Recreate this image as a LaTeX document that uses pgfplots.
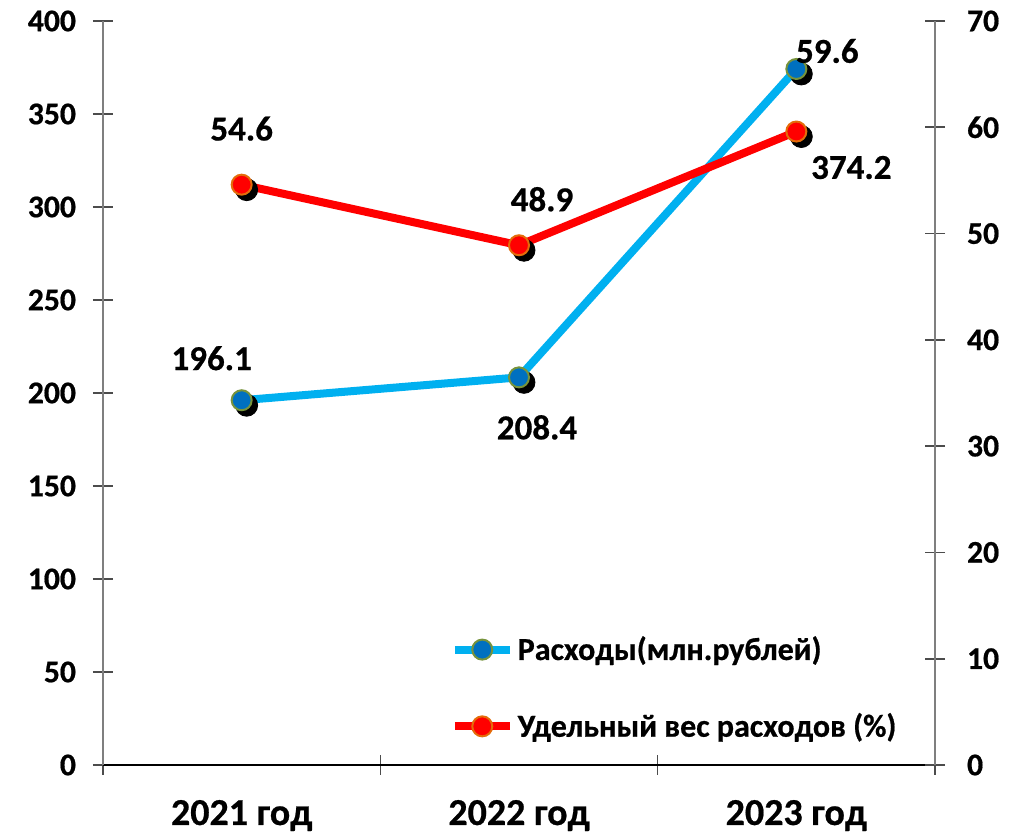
\documentclass[border=0pt]{standalone}
\usepackage{fontspec}
\setmainfont{Carlito}[BoldFeatures={FakeBold=0.6}]
\usepackage{pgfplots}
\usepackage{pgfplotstable}
\pgfplotsset{compat=1.18}
\definecolor{blueline}{HTML}{00B0F0}
\definecolor{bluemark}{HTML}{0070C0}
\definecolor{blueedge}{HTML}{77933C}
\definecolor{redline}{HTML}{FF0000}
\definecolor{rededge}{HTML}{E46C0A}
\definecolor{axgray}{HTML}{7F7F7F}
\pgfplotstableread{
x y dx dy lab
0 196.1 -15 21 196.1
1 208.4 9 -25 208.4
2 374.2 15.5 9 59.6
}\bluedata
\pgfplotstableread{
x y dx dy lab
0 54.6 0 28 54.6
1 48.9 11.5 23 48.9
2 59.6 27.5 -18 374.2
}\reddata
\pgfplotsset{
  base/.style={
    width=416pt, height=372pt, scale only axis,
    at={(0,0)}, anchor=south west,
    xmin=-0.5, xmax=2.5, clip=false,
    tick align=center, major tick length=10pt,
    tick style={draw=axgray!60!black, line width=0.8pt},
    ticklabel style={font=\fontsize{15.8}{18}\selectfont\bfseries},
    /pgf/number format/assume math mode=true,
    legend image code/.code={\draw[mark repeat=2,mark phase=2] plot coordinates {(0pt,0pt) (13.75pt,0pt) (27.5pt,0pt)};},
  },
  lab/.style={nodes near coords, point meta=explicit symbolic,
    visualization depends on={\thisrow{dx}\as\mydx},
    visualization depends on={\thisrow{dy}\as\mydy},
    every node near coord/.append style={anchor=center, xshift=\mydx pt, yshift=\mydy pt,
      font=\fontsize{17.5}{20}\selectfont\bfseries, text=black}},
  blueS/.style={blueline, line width=4pt, mark=*, mark size=5pt,
    mark options={solid, draw=blueedge, fill=bluemark, line width=1pt}},
  redS/.style={redline, line width=4pt, mark=*, mark size=5pt,
    mark options={solid, draw=rededge, fill=redline, line width=1pt}},
  shadow/.style={only marks, mark=*, mark size=5.5pt, black, forget plot,
    mark options={xshift=2.5pt, yshift=-2.5pt}},
}
\begin{document}
\begin{tikzpicture}
\useasboundingbox (-51.5pt,-34pt) rectangle (454pt,382.5pt);
\begin{axis}[base,
  ymin=0, ymax=400, ytick={0,50,...,400},
  yticklabel style={xshift=-5pt},
  axis x line*=bottom, axis y line*=left,
  x axis line style={-, black, line width=1pt},
  y axis line style={-, axgray, line width=0.8pt},
  xtick={-0.5,0.5,1.5,2.5}, xticklabels={},
  extra x ticks={0,1,2},
  extra x tick labels={2021 год,2022 год,2023 год},
  extra x tick style={major tick length=0pt,
    xticklabel style={font=\fontsize{19}{22}\selectfont\bfseries, yshift=-14pt}},
]
\addplot[shadow] table[x=x,y=y]{\bluedata};
\addplot[blueS, lab] table[x=x,y=y,meta=lab]{\bluedata};
\end{axis}
\begin{axis}[base,
  ymin=0, ymax=70, ytick={0,10,...,70},
  yticklabel style={xshift=7.5pt},
  axis x line=none, axis y line*=right,
  y axis line style={-, axgray, line width=0.8pt},
  legend style={at={(0.4175,0.179)}, anchor=north west, draw=none, fill=none,
    font=\fontsize{16}{19}\selectfont\bfseries, row sep=21pt, inner sep=0pt,
    cells={anchor=west, inner xsep=2pt}},
]
\addlegendimage{blueS}
\addlegendentry{Расходы(млн.рублей)}
\addplot[shadow] table[x=x,y=y]{\reddata};
\addplot[redS, lab] table[x=x,y=y,meta=lab]{\reddata};
\addlegendentry{Удельный вес расходов (\%)}
\end{axis}
\end{tikzpicture}
\end{document}
